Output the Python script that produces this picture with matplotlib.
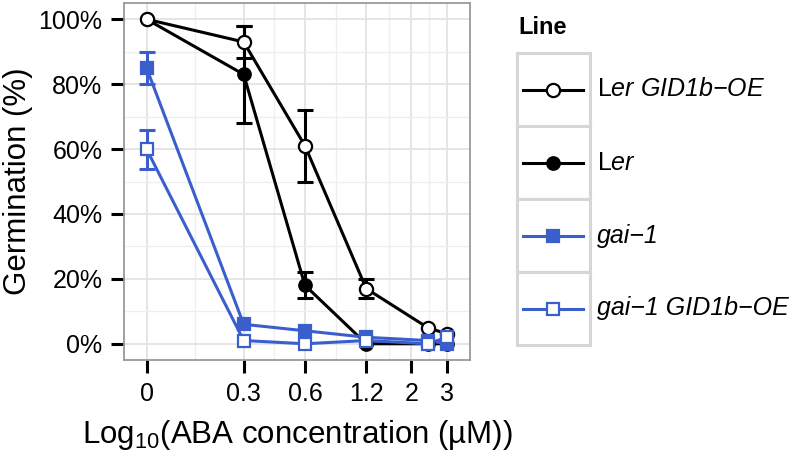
import matplotlib
matplotlib.use("Agg")
import matplotlib.pyplot as plt
from matplotlib.patches import Rectangle
import numpy as np

plt.rcParams['font.family'] = ['Liberation Sans', 'DejaVu Sans']
plt.rcParams['mathtext.fontset'] = 'custom'
plt.rcParams['mathtext.rm'] = 'Liberation Sans'
plt.rcParams['mathtext.it'] = 'Liberation Sans:italic'
plt.rcParams['mathtext.bf'] = 'Liberation Sans:bold'

# ---------------- data ----------------
aba_conc = [0.1, 0.3, 0.6, 1.2, 2.4, 3.0]          # "0" plotted at 0.1 on the log axis
x_tick_pos = [0.1, 0.3, 0.6, 1.2, 2, 3]
x_tick_labels = ["0", "0.3", "0.6", "1.2", "2", "3"]
y_ticks = [0, 20, 40, 60, 80, 100]
y_tick_labels = ["0%", "20%", "40%", "60%", "80%", "100%"]

ler = [100, 83, 18, 0, 0, 0]
ler_err = [0, 15, 4, 0, 0, 0]
ler_oe = [100, 93, 61, 17, 5, 3]
ler_oe_err = [0, 5, 11, 3, 0, 0]
gai1 = [85, 6, 4, 2, 1, 0]
gai1_err = [5, 0, 0, 0, 0, 0]
gai1_oe = [60, 1, 0, 1, 0, 2]
gai1_oe_err = [6, 0, 0, 0, 0, 0]

# italic text; the leading upright "L" is given via mathtext \mathrm
legend_labels = [
    '$\\mathrm{L}$er GID1b\u2212OE',
    '$\\mathrm{L}$er',
    'gai\u22121',
    'gai\u22121 GID1b\u2212OE',
]

BLUE = '#3A5FCD'
# drawing order: Ler, Ler GID1b-OE, gai-1, gai-1 GID1b-OE
series = [
    dict(y=ler, e=ler_err, color='black', marker='o', face='black', ms=9),
    dict(y=ler_oe, e=ler_oe_err, color='black', marker='o', face='white', ms=9.5),
    dict(y=gai1, e=gai1_err, color=BLUE, marker='s', face=BLUE, ms=8.5),
    dict(y=gai1_oe, e=gai1_oe_err, color=BLUE, marker='s', face='white', ms=8.5),
]

W, H = 797, 457
fig = plt.figure(figsize=(W / 100, H / 100), dpi=100)
ax = fig.add_axes([124 / W, 1 - 360 / H, 346 / W, 357 / H])

x = np.array(aba_conc)
for i, s in enumerate(series):
    y = np.array(s['y'], dtype=float)
    e = np.array(s['e'], dtype=float)
    m = e > 0
    if m.any():
        ax.errorbar(x[m], y[m], yerr=e[m], fmt='none', ecolor=s['color'],
                    elinewidth=2.2, capsize=5.5, capthick=2.2, zorder=2 + i * 0.01)
    ax.plot(x, y, color=s['color'], lw=2.2, zorder=3 + i * 0.01)
    ax.plot(x, y, linestyle='none', marker=s['marker'], ms=s['ms'],
            mfc=s['face'], mec=s['color'], mew=1.6, zorder=5 + i * 0.01)

ax.set_xscale('log')
ax.set_xlim(0.0775, 3.88)
ax.set_ylim(-5, 105)
ax.set_xticks(x_tick_pos)
ax.set_xticklabels(x_tick_labels)
lx = np.log10(x_tick_pos)
minor_pos = 10 ** ((lx[:-1] + lx[1:]) / 2)
ax.set_xticks(minor_pos, minor=True)
ax.xaxis.set_minor_formatter(matplotlib.ticker.NullFormatter())
ax.set_yticks(y_ticks)
ax.set_yticklabels(y_tick_labels)
ax.set_yticks([10, 30, 50, 70, 90], minor=True)

ax.tick_params(which='major', length=9.5, width=2.2, color='black',
               labelsize=18, pad=6, labelcolor='black')
ax.tick_params(which='minor', length=0)
ax.grid(which='major', color='#e3e3e3', lw=1.3)
ax.grid(which='minor', color='#eeeeee', lw=0.9)
ax.set_axisbelow(True)
for sp in ax.spines.values():
    sp.set_color('#9a9a9a')
    sp.set_linewidth(1.3)

ax.set_ylabel('Germination (%)', fontsize=22.5, labelpad=4)
ax.set_xlabel('Log$_{10}$(ABA concentration (µM))', fontsize=22.5, labelpad=9)

# ---------------- legend (drawn in pixel coords) ----------------
lax = fig.add_axes([0, 0, 1, 1])
lax.set_xlim(0, W)
lax.set_ylim(H, 0)
lax.axis('off')
lax.text(518, 28, 'Line', fontsize=17, fontweight='bold', va='center', ha='left')
key_w = 73
legend_order = [1, 0, 2, 3]
for k, si in enumerate(legend_order):
    s = series[si]
    top = 53 + k * key_w
    lax.add_patch(Rectangle((517, top), key_w, key_w, facecolor='white',
                            edgecolor='#d6d6d6', lw=2.2))
    cy = top + key_w / 2
    lax.plot([523, 583], [cy, cy], color=s['color'], lw=2.2)
    lax.plot([553], [cy], linestyle='none', marker=s['marker'], ms=s['ms'],
             mfc=s['face'], mec=s['color'], mew=1.6)
    lax.text(597, cy, legend_labels[k], fontsize=18, fontstyle='italic',
             va='center', ha='left')

fig.savefig('out.png', dpi=100)
